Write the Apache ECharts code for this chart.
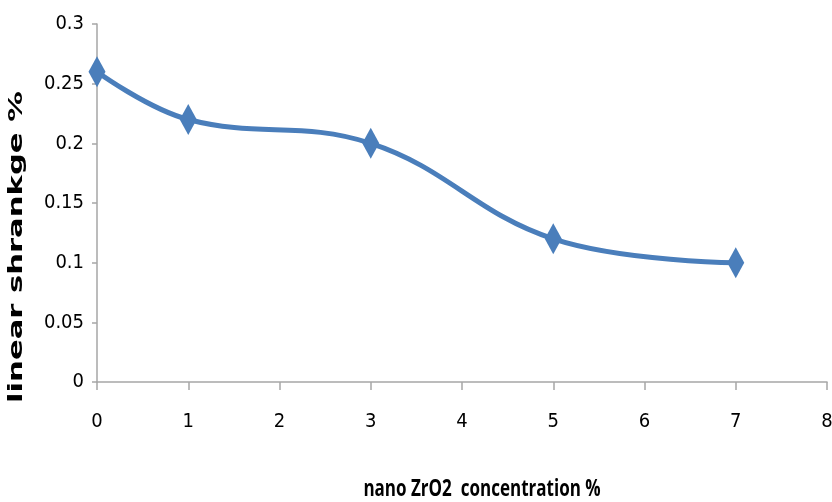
<!DOCTYPE html>
<html>
<head>
<meta charset="utf-8">
<script src="https://cdn.jsdelivr.net/npm/echarts@6/dist/echarts.min.js"></script>
<style>
  html, body { margin: 0; padding: 0; background: #ffffff; }
  #chart-container { width: 832px; height: 502px; }
</style>
</head>
<body>
<div id="chart-container"></div>
<script>
// data
const concentration = [0, 1, 3, 5, 7];
const shrinkage = [0.26, 0.22, 0.2, 0.12, 0.1];

const xTitle = 'nano ZrO2  concentration %';
const yTitle = 'linear shrankge %';

const axisColor = '#a6a6a6';
const lineColor = '#4a7ebb';
const labelFont = "'DejaVu Sans Condensed', 'DejaVu Sans', sans-serif";

const chartContainer = document.getElementById('chart-container');
const myChart = echarts.init(chartContainer);

const seriesData = concentration.map((x, i) => [x, shrinkage[i]]);

const options = {
    backgroundColor: '#ffffff',
    animation: false,
    grid: {
        left: 97,
        right: 5,
        top: 24,
        bottom: 120,
        outerBoundsMode: 'none',
        containLabel: false
    },
    xAxis: {
        type: 'value',
        min: 0,
        max: 8,
        interval: 1,
        axisLine: { lineStyle: { color: axisColor, width: 1.5 } },
        axisTick: { show: true, length: 8, lineStyle: { color: axisColor, width: 1.5 } },
        axisLabel: {
            margin: 30,
            fontFamily: labelFont,
            fontWeight: 'normal condensed',
            fontSize: 20,
            color: '#000000'
        },
        splitLine: { show: false }
    },
    yAxis: {
        type: 'value',
        min: 0,
        max: 0.3,
        interval: 0.05,
        axisLine: { show: true, lineStyle: { color: axisColor, width: 1.5 } },
        axisTick: { show: true, length: 5, lineStyle: { color: axisColor, width: 1.5 } },
        axisLabel: {
            margin: 13,
            fontFamily: labelFont,
            fontWeight: 'normal condensed',
            fontSize: 20,
            color: '#000000'
        },
        splitLine: { show: false }
    },
    graphic: [{
        type: 'text',
        x: 17,
        y: 247,
        rotation: Math.PI / 2,
        scaleX: 1.53,
        style: {
            text: yTitle,
            align: 'center',
            verticalAlign: 'middle',
            fontFamily: "'DejaVu Sans', sans-serif",
            fontWeight: 'bold',
            fontSize: 20,
            fill: '#000000'
        }
    }, {
        type: 'text',
        x: 482,
        y: 489,
        scaleX: 0.74,
        style: {
            text: xTitle,
            align: 'center',
            verticalAlign: 'middle',
            fontFamily: "'Open Sans', 'DejaVu Sans', sans-serif",
            fontWeight: 'bold',
            fontSize: 23,
            fill: '#000000'
        }
    }],
    series: [{
        name: 'shrinkage',
        type: 'line',
        smooth: 0.4,
        data: seriesData,
        symbol: 'diamond',
        symbolSize: [17, 31],
        showSymbol: true,
        lineStyle: { color: lineColor, width: 5 },
        itemStyle: { color: lineColor }
    }]
};

myChart.setOption(options);
</script>
</body>
</html>
